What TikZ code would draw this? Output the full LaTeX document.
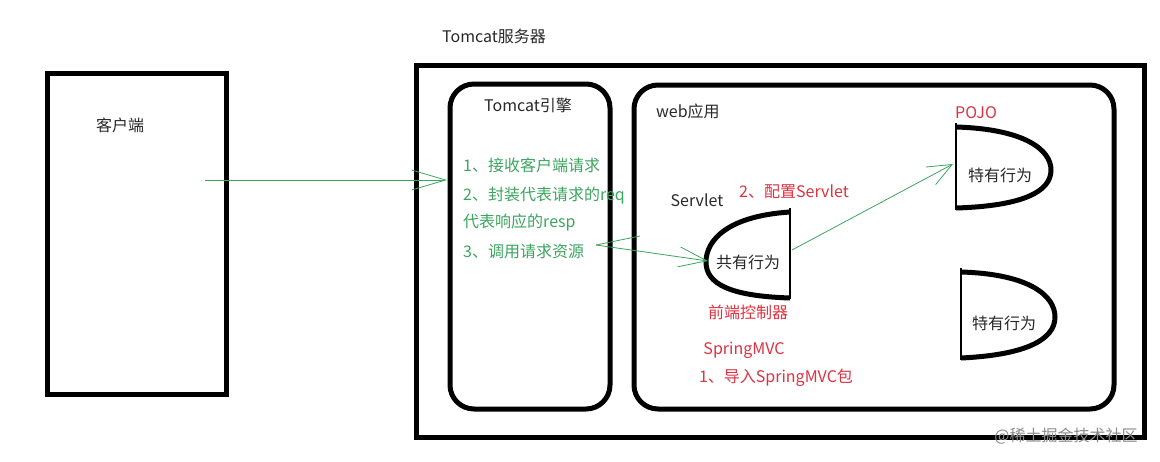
\documentclass[tikz,border=0pt]{standalone}
\usepackage{fontspec}
\setmainfont{Noto Sans CJK SC}
\usetikzlibrary{arrows.meta}
\definecolor{gtext}{RGB}{60,165,95}
\definecolor{rtext}{RGB}{220,50,65}
\definecolor{dtext}{RGB}{40,40,40}
\tikzset{
  thickbox/.style={draw=black, line width=5pt},
  roundbox/.style={draw=black, line width=5pt, rounded corners=24pt},
  lbl/.style={text=dtext, font=\fontsize{16}{19}\selectfont, inner sep=0pt},
  glbl/.style={text=gtext, font=\fontsize{16}{19}\selectfont, inner sep=0pt, anchor=west},
  rlbl/.style={text=rtext, font=\fontsize{16}{19}\selectfont, inner sep=0pt},
  garrow/.style={draw=gtext, line width=0.8pt, -{Straight Barb[length=#1, width=20pt, line width=0.8pt]}},
  dcurve/.style={draw=black, line width=5pt},
  dedge/.style={draw=black, line width=2.5pt},
}
\begin{document}
\begin{tikzpicture}[x=1pt, y=-1pt]
\useasboundingbox (0,0) rectangle (1160,461);
% client
\draw[thickbox] (47,73) rectangle (226,394);
\node[lbl] (client) at (120,125) {客户端};
% tomcat server
\node[lbl] (srvlabel) at (494,36) {Tomcat服务器};
\draw[thickbox] (416,65) rectangle (1144,437);
% engine
\draw[roundbox] (450,84) rectangle (610,409);
\node[lbl] (enginelabel) at (528,105) {Tomcat引擎};
\node[glbl] (g1) at (463,165) {1、接收客户端请求};
\node[glbl] (g2) at (463,196) {2、封装代表请求的req};
\node[glbl] (g3) at (463,223) {代表响应的resp};
\node[glbl] (g4) at (463,251) {3、调用请求资源};
% web app
\draw[roundbox] (634,85) rectangle (1114,409);
\node[lbl, anchor=west] (weblabel) at (656,111) {web应用};
% servlet D shape
\draw[dedge] (790,208) -- (790,299);
\draw[dcurve] (790,212) .. controls (728,216) and (706,240) .. (706,262)
  .. controls (706,284) and (730,296) .. (790,298);
\node[lbl] (shared) at (748,262) {共有行为};
\node[lbl] (servletlabel) at (697,200) {Servlet};
\node[rlbl] (cfg) at (794,192) {2、配置Servlet};
\node[rlbl] (front) at (748,312) {前端控制器};
\node[rlbl] (smvc) at (744,350) {SpringMVC};
\node[rlbl] (imp) at (776,378) {1、导入SpringMVC包};
% POJO D shape 1
\draw[dedge] (956,123) -- (956,210);
\draw[dcurve] (956,127) .. controls (1025,129) and (1051,150) .. (1051,170)
  .. controls (1051,192) and (1022,206) .. (956,208);
\node[lbl] (spec1) at (1000,175) {特有行为};
\node[rlbl] (pojo) at (976,113) {POJO};
% POJO D shape 2
\draw[dedge] (961,268) -- (961,360);
\draw[dcurve] (961,272) .. controls (1030,274) and (1055,296) .. (1055,317)
  .. controls (1055,340) and (1025,355) .. (961,358);
\node[lbl] (spec2) at (1004,323) {特有行为};
% connectors
\coordinate (clientout) at (205,180);
\coordinate (enginein) at (447,180);
\coordinate (engineout) at (596,245);
\coordinate (tail) at (640,236);
\coordinate (servletin) at (708,261);
\coordinate (servletout) at (792,250);
\coordinate (pojoin) at (953,164);
\draw[garrow=34pt] (clientout) -- (enginein);
\draw[draw=gtext, line width=0.8pt] (engineout) -- (tail);
\draw[garrow=28pt] (engineout) -- (servletin);
\draw[garrow=24pt] (servletout) -- (pojoin);
% watermark
\node[text=black!45, font=\fontsize{16}{19}\selectfont, inner sep=0pt] (wm) at (1066,436) {@稀土掘金技术社区};
\end{tikzpicture}
\end{document}
